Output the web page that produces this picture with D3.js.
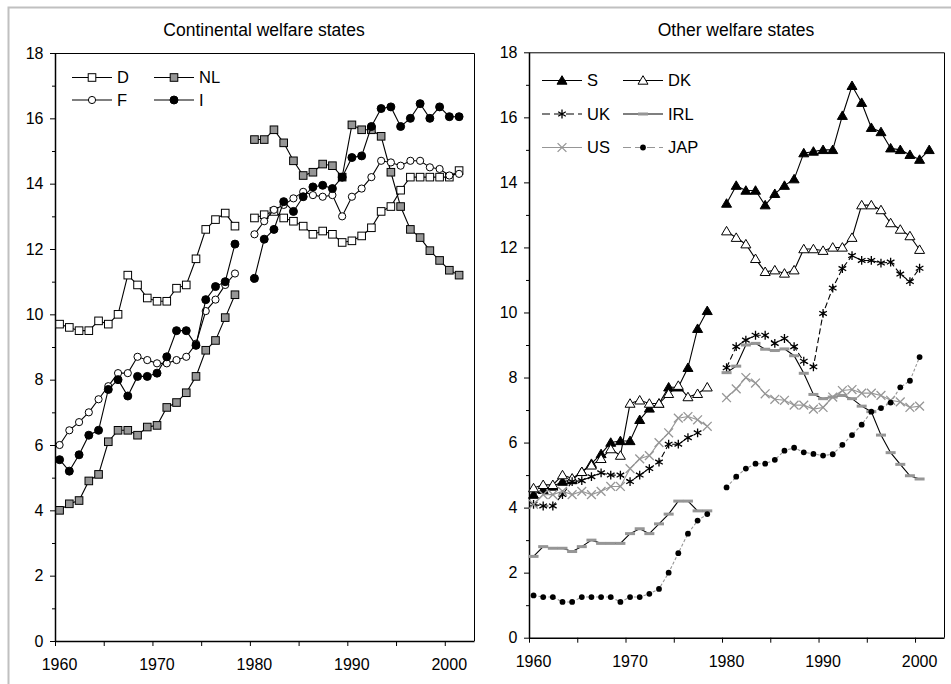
<!DOCTYPE html>
<html><head><meta charset="utf-8">
<script src="https://cdn.jsdelivr.net/npm/d3@7/dist/d3.min.js"></script>
<style>
body{margin:0;background:#fff}
svg{display:block}
text{font-family:"Liberation Sans",Arial,Helvetica,sans-serif;fill:#000}
</style>
</head><body>
<svg id="chart" width="951" height="684"></svg>
<script>
// ---------- DATA ----------
const years = [1960,1961,1962,1963,1964,1965,1966,1967,1968,1969,1970,1971,1972,1973,1974,1975,1976,1977,1978,1979,
               1980,1981,1982,1983,1984,1985,1986,1987,1988,1989,1990,1991,1992,1993,1994,1995,1996,1997,1998,1999,2000,2001];

// Continental welfare states
const D  = [9.7,9.6,9.5,9.5,9.8,9.7,10.0,11.2,10.9,10.5,10.4,10.4,10.8,10.9,11.7,12.6,12.9,13.1,12.7,null,
            12.95,13.05,13.15,12.95,12.85,12.7,12.45,12.55,12.45,12.2,12.25,12.4,12.65,13.15,13.3,13.8,14.2,14.2,14.2,14.2,14.2,14.4];
const NL = [4.0,4.2,4.3,4.9,5.1,6.1,6.45,6.45,6.3,6.55,6.6,7.15,7.3,7.6,8.1,8.9,9.2,9.9,10.6,null,
            15.35,15.35,15.65,15.25,14.7,14.25,14.35,14.6,14.55,14.2,15.8,15.65,15.65,15.45,14.35,13.3,12.6,12.35,11.95,11.65,11.35,11.2];
const F  = [6.0,6.45,6.7,7.0,7.4,7.8,8.2,8.2,8.7,8.6,8.5,8.5,8.6,8.7,9.1,10.1,10.45,10.9,11.25,null,
            12.45,12.85,13.2,13.35,13.55,13.75,13.65,13.6,13.65,13.0,13.6,13.85,14.2,14.7,14.65,14.55,14.7,14.7,14.5,14.45,14.25,14.3];
const I  = [5.55,5.2,5.7,6.3,6.45,7.7,8.0,7.5,8.1,8.1,8.2,8.7,9.5,9.5,9.05,10.45,10.85,11.0,12.15,null,
            11.1,12.3,12.6,13.45,13.15,13.6,13.9,13.95,13.85,14.2,14.8,14.85,15.75,16.3,16.35,15.75,16.0,16.45,16.0,16.35,16.05,16.05];

// Other welfare states
const S   = [4.4,4.55,4.65,4.8,4.85,5.1,5.35,5.65,6.0,6.05,6.05,6.7,7.05,7.2,7.7,7.7,8.3,9.5,10.05,null,
             13.35,13.9,13.75,13.75,13.3,13.65,13.9,14.1,14.9,14.95,15.0,15.0,16.05,16.97,16.45,15.68,15.55,15.05,15.0,14.85,14.7,15.0];
const DK  = [4.6,4.7,4.7,5.0,4.9,5.1,5.3,5.5,5.8,5.6,7.2,7.3,7.2,7.2,7.5,7.75,7.4,7.5,7.7,null,
             12.5,12.3,12.1,11.65,11.25,11.3,11.2,11.3,11.95,11.95,11.9,12.0,12.0,12.3,13.3,13.3,13.15,12.75,12.55,12.35,11.93,null];
const UK  = [4.1,4.05,4.05,4.4,4.8,4.83,4.95,5.07,5.0,5.0,4.8,5.0,5.2,5.4,5.95,5.95,6.15,6.3,null,null,
             8.3,8.95,9.15,9.3,9.3,9.05,9.2,8.95,8.5,8.33,9.97,10.75,11.35,11.75,11.6,11.6,11.52,11.55,11.18,10.95,11.36,null];
const IRL = [2.5,2.8,2.75,2.75,2.65,2.8,3.0,2.9,2.9,2.9,3.2,3.35,3.2,3.5,3.8,4.2,4.2,3.9,3.9,null,
             8.15,8.35,9.0,9.05,8.87,8.83,8.88,8.67,8.13,7.48,7.35,7.4,7.45,7.35,7.12,6.95,6.23,5.69,5.33,4.98,4.88,null];
const US  = [4.1,4.4,4.4,4.5,4.4,4.5,4.4,4.5,4.65,4.65,5.2,5.5,5.6,6.0,6.3,6.75,6.8,6.7,6.5,null,
             7.38,7.65,8.0,7.83,7.5,7.33,7.3,7.15,7.15,7.03,7.08,7.4,7.6,7.63,7.52,7.52,7.45,7.3,7.25,7.08,7.12,null];
const JAP = [1.3,1.25,1.25,1.1,1.1,1.25,1.25,1.25,1.25,1.1,1.25,1.25,1.35,1.5,2.0,2.6,3.2,3.6,3.8,null,
             4.62,4.95,5.2,5.35,5.35,5.47,5.75,5.84,5.7,5.65,5.6,5.64,5.93,6.23,6.55,6.95,7.06,7.23,7.7,7.9,8.63,null];

const yTicks = [0,2,4,6,8,10,12,14,16,18];
const yMinorTicks = [1,3,5,7,9,11,13,15,17];
const xTicks = [1960,1970,1980,1990,2000];
const xMinorTicks = [1965,1975,1985,1995];
const titles = ["Continental welfare states","Other welfare states"];

// ---------- LAYOUT / STYLE ----------
const GRAY = "#969696";
const TICK_FONT = "16px", LEGEND_FONT = "16.5px", TITLE_FONT = "17.5px";
const panels = [
  {title:titles[0], left:55, right:474, top:53, bottom:641, titleX:264,
   legend:{x0:72, dx:82, y0:77.5, dy:22.5, cols:2},
   series:[
     {name:"D",  data:D,  marker:"square", fill:"#fff", line:"#000"},
     {name:"NL", data:NL, marker:"square", fill:GRAY,   line:"#000"},
     {name:"F",  data:F,  marker:"circle", fill:"#fff", line:"#000"},
     {name:"I",  data:I,  marker:"dot",    fill:"#000", line:"#000"}
   ]},
  {title:titles[1], left:529, right:944, top:52.3, bottom:637.7, titleX:736,
   legend:{x0:542, dx:81, y0:80.5, dy:33.5, cols:2},
   series:[
     {name:"S",   data:S,   marker:"triangle", fill:"#000", line:"#000"},
     {name:"DK",  data:DK,  marker:"triangle", fill:"#fff", line:"#000"},
     {name:"UK",  data:UK,  marker:"star",     fill:"none", line:"#000", dash:"6,3"},
     {name:"IRL", data:IRL, marker:"dash",     fill:GRAY,   line:"#000"},
     {name:"US",  data:US,  marker:"x",        fill:"none", line:GRAY,  stroke:GRAY},
     {name:"JAP", data:JAP, marker:"smalldot", fill:"#000", line:GRAY, dash:"3,2"}
   ]}
];

const svg = d3.select("#chart");

// outer frame
svg.append("rect").attr("x",8.5).attr("y",7.5).attr("width",1000).attr("height",1000)
  .attr("fill","none").attr("stroke","#c0c0c0").attr("stroke-width",2);

function drawMarker(g, type, x, y, s) {
  const st = s.stroke || "#000";
  if (type==="square") {
    g.append("rect").attr("x",x-3.8).attr("y",y-3.8).attr("width",7.6).attr("height",7.6)
      .attr("fill",s.fill).attr("stroke","#000").attr("stroke-width",1);
  } else if (type==="circle") {
    g.append("circle").attr("cx",x).attr("cy",y).attr("r",3.6).attr("fill","#fff").attr("stroke","#000");
  } else if (type==="dot") {
    g.append("circle").attr("cx",x).attr("cy",y).attr("r",4).attr("fill","#000").attr("stroke","#000");
  } else if (type==="triangle") {
    g.append("path").attr("d",`M${x},${y-4.8}L${x+5},${y+3.7}L${x-5},${y+3.7}Z`)
      .attr("fill",s.fill).attr("stroke","#000").attr("stroke-width",1);
  } else if (type==="star") {
    const r=4.4, d=r*0.866;
    g.append("path").attr("d",`M${x},${y-r}V${y+r}M${x-d},${y-r/2}L${x+d},${y+r/2}M${x-d},${y+r/2}L${x+d},${y-r/2}`)
      .attr("stroke","#000").attr("stroke-width",1.3).attr("fill","none");
  } else if (type==="dash") {
    g.append("rect").attr("x",x-5).attr("y",y-1.5).attr("width",10).attr("height",3).attr("fill",GRAY);
  } else if (type==="x") {
    const r=4.4;
    g.append("path").attr("d",`M${x-r},${y-r}L${x+r},${y+r}M${x-r},${y+r}L${x+r},${y-r}`)
      .attr("stroke",st).attr("stroke-width",1.3).attr("fill","none");
  } else if (type==="smalldot") {
    g.append("circle").attr("cx",x).attr("cy",y).attr("r",2.9).attr("fill","#000");
  }
}

panels.forEach(p => {
  const x = d3.scaleLinear().domain([1960,2003]).range([p.left,p.right]);
  const y = d3.scaleLinear().domain([0,18]).range([p.bottom,p.top]);
  const g = svg.append("g");

  // title
  g.append("text").attr("x",p.titleX).attr("y",36).attr("text-anchor","middle")
    .style("font-size",TITLE_FONT).text(p.title);

  // plot box (top and right edges)
  g.append("path").attr("d",`M${p.left},${p.top+0.5}H${p.right+0.5}V${p.bottom}`)
    .attr("fill","none").attr("stroke","#000").attr("stroke-width",1);

  // y axis
  const yAx = g.append("g").attr("transform",`translate(${p.left},0)`)
    .call(d3.axisLeft(y).tickValues(yTicks).tickSize(5).tickPadding(6.5).tickSizeOuter(0));
  yAx.selectAll("text").style("font-size",TICK_FONT);
  g.append("g").attr("transform",`translate(${p.left},0)`)
    .call(d3.axisLeft(y).tickValues(yMinorTicks).tickSize(3).tickFormat("").tickSizeOuter(0))
    .select(".domain").remove();

  // x axis
  const xAx = g.append("g").attr("transform",`translate(0,${p.bottom})`)
    .call(d3.axisBottom(x).tickValues(xTicks).tickSize(5).tickPadding(12.5).tickFormat(d3.format("d")).tickSizeOuter(0));
  xAx.selectAll("text").style("font-size",TICK_FONT).attr("dx",4);
  g.append("g").attr("transform",`translate(0,${p.bottom})`)
    .call(d3.axisBottom(x).tickValues(xMinorTicks).tickSize(5).tickFormat("").tickSizeOuter(0))
    .select(".domain").remove();
  g.selectAll(".domain").attr("stroke-width",1.5);

  // series
  const px = yr => x(yr + 0.47);
  p.series.forEach(s => {
    const pts = years.map((yr,i)=>({yr, v:s.data[i]}));
    const line = d3.line().defined(d=>d.v!=null).x(d=>px(d.yr)).y(d=>y(d.v));
    g.append("path").datum(pts).attr("d",line).attr("fill","none")
      .attr("stroke",s.line).attr("stroke-width",1.1).attr("stroke-dasharray",s.dash||null);
    const mg = g.append("g");
    pts.filter(d=>d.v!=null).forEach(d=>drawMarker(mg,s.marker,px(d.yr),y(d.v),s));
  });

  // legend
  p.series.forEach((s,i) => {
    const col = i % p.legend.cols, row = Math.floor(i / p.legend.cols);
    const lx = p.legend.x0 + col*p.legend.dx, ly = p.legend.y0 + row*p.legend.dy;
    const lg = g.append("g");
    lg.append("line").attr("x1",lx).attr("x2",lx+40).attr("y1",ly).attr("y2",ly)
      .attr("stroke",s.line).attr("stroke-width",1.1).attr("stroke-dasharray",s.dash?"8,4":null);
    drawMarker(lg,s.marker,lx+20,ly,s);
    lg.append("text").attr("x",lx+45).attr("y",ly).attr("dy","0.35em").style("font-size",LEGEND_FONT).text(s.name);
  });
});
</script>
</body></html>
